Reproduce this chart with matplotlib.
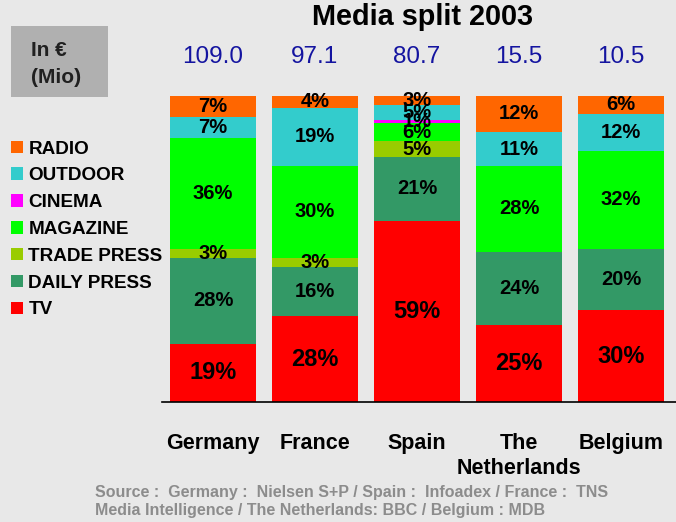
import matplotlib
matplotlib.use('Agg')
import matplotlib.pyplot as plt
import matplotlib.patches as patches
import numpy as np

plt.rcParams['font.family'] = ['Liberation Sans', 'DejaVu Sans']

countries = ['Germany', 'France', 'Spain', 'The\nNetherlands', 'Belgium']
totals = ['109.0', '97.1', '80.7', '15.5', '10.5']

# stacking order, bottom to top
media = ['TV', 'DAILY PRESS', 'TRADE PRESS', 'MAGAZINE', 'CINEMA', 'OUTDOOR', 'RADIO']
colors = ['#ff0000', '#339966', '#99cc00', '#00ff00', '#ff00ff', '#33cccc', '#ff6600']
tv = [19, 28, 59, 25, 30]
daily_press = [28, 16, 21, 24, 20]
trade_press = [3, 3, 5, 0, 0]
magazine = [36, 30, 6, 28, 32]
cinema = [0, 0, 1, 0, 0]
outdoor = [7, 19, 5, 11, 12]
radio = [7, 4, 3, 12, 6]
shares = [tv, daily_press, trade_press, magazine, cinema, outdoor, radio]

bg = '#e8e8e8'
fig = plt.figure(figsize=(6.76, 5.22), dpi=100, facecolor=bg)
ax = fig.add_axes([162/676, 1-402/522, 514/676, 306.5/522])
ax.set_facecolor(bg)

x = np.arange(len(countries))
bottom = np.zeros(len(countries))
for k in range(len(media)):
    vals = np.array(shares[k], dtype=float)
    ax.bar(x, vals, 0.84, bottom=bottom, color=colors[k], label=media[k])
    for i in range(len(countries)):
        if vals[i] > 0:
            size = 17 if media[k] == 'TV' else 14.5
            ax.text(x[i], bottom[i] + vals[i]/2, '%d%%' % vals[i], ha='center', va='center',
                    fontsize=size, fontweight='bold', color='black')
    bottom += vals

ax.set_xlim(-0.5, 4.54)
ax.set_ylim(0, 100)
for s in ['top', 'right', 'left']:
    ax.spines[s].set_visible(False)
ax.spines['bottom'].set_linewidth(1.2)
ax.set_yticks([])
ax.set_xticks(x)
ax.set_xticklabels(countries, fontsize=15.5, fontweight='bold')
for lbl in ax.get_xticklabels():
    lbl.set_linespacing(1.3)
ax.tick_params(axis='x', length=0, pad=22)

for i in range(len(countries)):
    ax.text(x[i], 1.1256, totals[i], transform=ax.get_xaxis_transform(), ha='center', va='center',
            fontsize=17.5, color='#1414a0')

fig.text(423/676, 1-17/522, 'Media split 2003', ha='center', va='center', fontsize=20.8, fontweight='bold')

# unit box
fig.patches.append(patches.Rectangle((11/676, 1-97/522), 97/676, 71/522, transform=fig.transFigure,
                                     facecolor='#b0b0b0', edgecolor='none'))
fig.text(31/676, 1-64/522, 'In €\n(Mio)', ha='left', va='center', fontsize=15, fontweight='bold',
         color='#202020', linespacing=1.55)

handles, labels = ax.get_legend_handles_labels()
fig.legend(handles[::-1], labels[::-1], loc='upper left', bbox_to_anchor=(3/676, 1-133/522),
           frameon=False, prop={'size': 13.6, 'weight': 'bold'}, handlelength=0.64, handleheight=0.64,
           handletextpad=0.3, labelspacing=0.52, borderaxespad=0)

fig.text(95/676, 1-493/522, 'Source :  Germany :  Nielsen S+P / Spain :  Infoadex / France :  TNS',
         ha='left', va='center', fontsize=11.5, fontweight='bold', color='#8c8c8c')
fig.text(95/676, 1-511/522, 'Media Intelligence / The Netherlands: BBC / Belgium : MDB',
         ha='left', va='center', fontsize=11.5, fontweight='bold', color='#8c8c8c')

fig.savefig('out.png', dpi=100, facecolor=bg)
